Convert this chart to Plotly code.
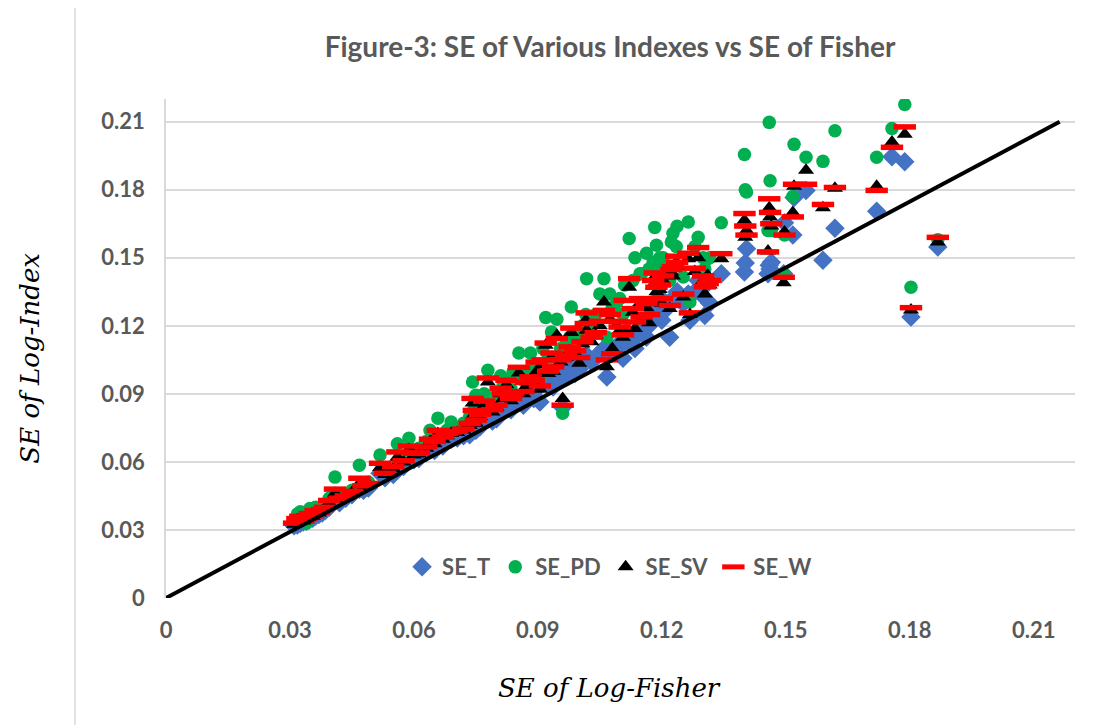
import plotly.graph_objects as go

# ---------------- data ----------------
se_fisher = [
    0.0310, 0.0318, 0.0325, 0.0332, 0.0340, 0.0348, 0.0355, 0.0362, 0.0370, 0.0378,
    0.0385, 0.0395, 0.0409, 0.0420, 0.0435, 0.0450, 0.0468, 0.0478, 0.0490, 0.0518,
    0.0530, 0.0550, 0.0560, 0.0575, 0.0588, 0.0600, 0.0612, 0.0630, 0.0639, 0.0650,
    0.0658, 0.0670, 0.0680, 0.0690, 0.0705, 0.0720, 0.0735, 0.0742, 0.0745, 0.0750,
    0.0760, 0.0770, 0.0779, 0.0790, 0.0800, 0.0810, 0.0816, 0.0824, 0.0835, 0.0840,
    0.0854, 0.0865, 0.0870, 0.0882, 0.0890, 0.0897, 0.0905, 0.0912, 0.0919, 0.0925,
    0.0933, 0.0937, 0.0946, 0.0955, 0.0960, 0.0968, 0.0977, 0.0981, 0.0990, 0.1000,
    0.1008, 0.1016, 0.1018, 0.1030, 0.1040, 0.1050, 0.1060, 0.1067, 0.1074, 0.1080,
    0.1090, 0.1098, 0.1106, 0.1110, 0.1121, 0.1130, 0.1135, 0.1147, 0.1151, 0.1163,
    0.1169, 0.1179, 0.1183, 0.1187, 0.1195, 0.1200, 0.1203, 0.1219, 0.1223, 0.1227,
    0.1235, 0.1237, 0.1252, 0.1264, 0.1268, 0.1280, 0.1288, 0.1300, 0.1304, 0.1311,
    0.1316, 0.1344, 0.1400, 0.1402, 0.1405, 0.1457, 0.1460, 0.1462, 0.1465, 0.1495,
    0.1497, 0.1517, 0.1520, 0.1549, 0.1590, 0.1619, 0.1720, 0.1757, 0.1788, 0.1803,
    0.1868,
]
se_t = [
    0.0318, 0.0322, 0.0330, 0.0335, 0.0338, 0.0350, 0.0352, 0.0362, 0.0368, 0.0375,
    0.0385, 0.0400, 0.0430, 0.0420, 0.0440, 0.0455, 0.0480, 0.0475, 0.0485, 0.0550,
    0.0530, 0.0545, 0.0590, 0.0580, 0.0620, 0.0610, 0.0615, 0.0640, 0.0660, 0.0650,
    0.0680, 0.0670, 0.0690, 0.0700, 0.0705, 0.0715, 0.0720, 0.0780, 0.0760, 0.0740,
    0.0755, 0.0800, 0.0820, 0.0780, 0.0790, 0.0840, 0.0830, 0.0880, 0.0830, 0.0860,
    0.0880, 0.0850, 0.0870, 0.0900, 0.0880, 0.0920, 0.0864, 0.0950, 0.0980, 0.0940,
    0.0960, 0.0930, 0.1000, 0.0960, 0.0840, 0.0980, 0.1004, 0.1020, 0.0990, 0.1010,
    0.1040, 0.1060, 0.1070, 0.1040, 0.1063, 0.1080, 0.1100, 0.0974, 0.1090, 0.1080,
    0.1110, 0.1120, 0.1057, 0.1130, 0.1150, 0.1136, 0.1100, 0.1180, 0.1195, 0.1150,
    0.1200, 0.1261, 0.1280, 0.1250, 0.1327, 0.1224, 0.1260, 0.1150, 0.1300, 0.1320,
    0.1330, 0.1350, 0.1298, 0.1340, 0.1224, 0.1350, 0.1400, 0.1330, 0.1246, 0.1388,
    0.1300, 0.1430, 0.1437, 0.1477, 0.1540, 0.1430, 0.1467, 0.1450, 0.1480, 0.1430,
    0.1654, 0.1600, 0.1766, 0.1797, 0.1489, 0.1630, 0.1705, 0.1945, 0.1923, 0.1239,
    0.1548,
]
se_pd = [
    0.0335, 0.0370, 0.0380, 0.0345, 0.0330, 0.0395, 0.0365, 0.0400, 0.0385, 0.0395,
    0.0410, 0.0440, 0.0533, 0.0450, 0.0445, 0.0475, 0.0585, 0.0500, 0.0510, 0.0630,
    0.0560, 0.0580, 0.0680, 0.0610, 0.0704, 0.0650, 0.0660, 0.0690, 0.0740, 0.0700,
    0.0793, 0.0720, 0.0740, 0.0776, 0.0750, 0.0770, 0.0800, 0.0952, 0.0830, 0.0894,
    0.0850, 0.0900, 0.1004, 0.0860, 0.0900, 0.0980, 0.0940, 0.0960, 0.0920, 0.0997,
    0.1080, 0.0960, 0.0990, 0.1080, 0.1000, 0.1030, 0.0970, 0.1100, 0.1237, 0.1060,
    0.1173, 0.1050, 0.1229, 0.1100, 0.0815, 0.1120, 0.1150, 0.1283, 0.1150, 0.1180,
    0.1200, 0.1250, 0.1408, 0.1200, 0.1250, 0.1340, 0.1408, 0.1150, 0.1340, 0.1280,
    0.1300, 0.1320, 0.1250, 0.1380, 0.1585, 0.1400, 0.1500, 0.1430, 0.1430, 0.1520,
    0.1450, 0.1480, 0.1634, 0.1555, 0.1500, 0.1450, 0.1500, 0.1400, 0.1570, 0.1608,
    0.1550, 0.1639, 0.1415, 0.1658, 0.1305, 0.1550, 0.1590, 0.1500, 0.1450, 0.1496,
    0.1500, 0.1654, 0.1955, 0.1800, 0.1790, 0.1620, 0.2097, 0.1840, 0.1620, 0.1430,
    0.1600, 0.1770, 0.2000, 0.1943, 0.1925, 0.2060, 0.1943, 0.2070, 0.2176, 0.1370,
    0.1580,
]
se_sv = [
    0.0325, 0.0345, 0.0350, 0.0340, 0.0345, 0.0365, 0.0360, 0.0380, 0.0375, 0.0385,
    0.0395, 0.0420, 0.0462, 0.0435, 0.0445, 0.0465, 0.0505, 0.0490, 0.0500, 0.0575,
    0.0545, 0.0570, 0.0620, 0.0600, 0.0655, 0.0630, 0.0635, 0.0660, 0.0690, 0.0680,
    0.0725, 0.0700, 0.0715, 0.0725, 0.0730, 0.0740, 0.0760, 0.0860, 0.0810, 0.0770,
    0.0800, 0.0850, 0.0952, 0.0820, 0.0840, 0.0900, 0.0880, 0.0940, 0.0870, 0.0890,
    0.0992, 0.0900, 0.0930, 0.0960, 0.0950, 0.1000, 0.0920, 0.1030, 0.1114, 0.0990,
    0.1060, 0.1000, 0.1158, 0.1040, 0.0880, 0.1060, 0.1090, 0.1170, 0.1080, 0.1035,
    0.1120, 0.1224, 0.1180, 0.1130, 0.1160, 0.1200, 0.1305, 0.1019, 0.1230, 0.1100,
    0.1200, 0.1180, 0.1150, 0.1173, 0.1370, 0.1260, 0.1188, 0.1300, 0.1230, 0.1280,
    0.1213, 0.1380, 0.1415, 0.1350, 0.1360, 0.1300, 0.1400, 0.1276, 0.1437, 0.1420,
    0.1480, 0.1460, 0.1327, 0.1496, 0.1250, 0.1440, 0.1500, 0.1400, 0.1340, 0.1423,
    0.1380, 0.1496, 0.1665, 0.1590, 0.1620, 0.1530, 0.1720, 0.1680, 0.1640, 0.1390,
    0.1614, 0.1700, 0.1815, 0.1886, 0.1720, 0.1807, 0.1815, 0.2010, 0.2045, 0.1270,
    0.1570,
]
se_w = [
    0.0330, 0.0350, 0.0360, 0.0342, 0.0350, 0.0372, 0.0362, 0.0385, 0.0378, 0.0390,
    0.0400, 0.0430, 0.0480, 0.0440, 0.0450, 0.0470, 0.0528, 0.0495, 0.0505, 0.0594,
    0.0550, 0.0580, 0.0644, 0.0605, 0.0670, 0.0638, 0.0640, 0.0666, 0.0700, 0.0690,
    0.0739, 0.0710, 0.0725, 0.0732, 0.0735, 0.0745, 0.0770, 0.0880, 0.0827, 0.0784,
    0.0810, 0.0868, 0.0970, 0.0830, 0.0850, 0.0925, 0.0900, 0.0960, 0.0880, 0.0900,
    0.1017, 0.0910, 0.0950, 0.0975, 0.0960, 0.1040, 0.0935, 0.1050, 0.1124, 0.1000,
    0.1080, 0.1019, 0.1144, 0.1050, 0.0850, 0.1070, 0.1107, 0.1190, 0.1090, 0.1060,
    0.1130, 0.1210, 0.1257, 0.1150, 0.1170, 0.1220, 0.1268, 0.1050, 0.1250, 0.1077,
    0.1220, 0.1195, 0.1160, 0.1312, 0.1408, 0.1276, 0.1217, 0.1320, 0.1239, 0.1298,
    0.1250, 0.1400, 0.1433, 0.1370, 0.1380, 0.1320, 0.1420, 0.1290, 0.1448, 0.1460,
    0.1507, 0.1480, 0.1340, 0.1520, 0.1257, 0.1454, 0.1545, 0.1420, 0.1372, 0.1386,
    0.1400, 0.1518, 0.1695, 0.1640, 0.1600, 0.1526, 0.1760, 0.1700, 0.1650, 0.1414,
    0.1600, 0.1680, 0.1824, 0.1824, 0.1735, 0.1810, 0.1797, 0.1987, 0.2077, 0.1280,
    0.1590,
]
# reference line drawn in the original chart
ref_line_x = [0.0, 0.2163]
ref_line_y = [0.0, 0.2100]

tick_vals = [0, 0.03, 0.06, 0.09, 0.12, 0.15, 0.18, 0.21]
tick_text = ["0", "0.03", "0.06", "0.09", "0.12", "0.15", "0.18", "0.21"]

title_text = "Figure-3: SE of Various Indexes vs SE of Fisher"
x_title = "SE of Log-Fisher"
y_title = "SE of Log-Index"

# ---------------- figure ----------------
GRAY_TXT = "#595959"
GRID = "#D9D9D9"

fig = go.Figure()
fig.add_trace(go.Scatter(x=se_fisher, y=se_t, mode="markers", name="SE_T",
                         marker=dict(symbol="diamond", size=15, color="#4472C4")))
fig.add_trace(go.Scatter(x=se_fisher, y=se_pd, mode="markers", name="SE_PD",
                         marker=dict(symbol="circle", size=13.5, color="#00B050")))
fig.add_trace(go.Scatter(x=se_fisher, y=se_sv, mode="markers", name="SE_SV",
                         marker=dict(symbol="triangle-up", size=14, color="#000000")))
fig.add_trace(go.Scatter(x=se_fisher, y=se_w, mode="markers", name="SE_W",
                         marker=dict(symbol="line-ew", size=16, color="#FF0000",
                                     line=dict(color="#FF0000", width=5.5))))
fig.add_trace(go.Scatter(x=ref_line_x, y=ref_line_y, mode="lines", showlegend=False,
                         line=dict(color="#000000", width=4), hoverinfo="skip"))

fig.update_layout(
    width=1119, height=725,
    paper_bgcolor="white", plot_bgcolor="white",
    margin=dict(l=158, r=52, t=91, b=135),
    title=dict(text=title_text, x=0.538, xanchor="center", y=0.946, yanchor="middle",
               font=dict(family="Lato", size=28, color=GRAY_TXT, weight="bold")),
    legend=dict(orientation="h", x=0.488, xanchor="center", y=0.062, yanchor="middle",
                bgcolor="rgba(0,0,0,0)",
                font=dict(family="Lato", size=22, color=GRAY_TXT, weight="bold"),
                itemwidth=30),
    showlegend=True,
)
fig.update_xaxes(range=[0, 0.22], tickvals=tick_vals, ticktext=tick_text,
                 showgrid=False, zeroline=False, showline=False, ticks="",
                 ticklabelstandoff=17,
                 tickfont=dict(family="Lato", size=22, color=GRAY_TXT, weight="bold"))
fig.update_yaxes(range=[0, 0.22], tickvals=tick_vals, ticktext=tick_text,
                 showgrid=True, gridcolor=GRID, gridwidth=1.5, zeroline=False,
                 showline=True, linecolor=GRID, linewidth=1.5, ticks="",
                 ticklabelstandoff=15,
                 tickfont=dict(family="Lato", size=22, color=GRAY_TXT, weight="bold"))

fig.add_annotation(text=x_title, xref="paper", yref="paper", x=0.488, y=-0.180,
                   xanchor="center", yanchor="middle", showarrow=False,
                   font=dict(family="DejaVu Serif", size=26, color="#000000", style="italic"))
fig.add_annotation(text=y_title, xref="paper", yref="paper", x=-0.15, y=0.481,
                   xanchor="center", yanchor="middle", showarrow=False, textangle=-90,
                   font=dict(family="DejaVu Serif", size=26, color="#000000", style="italic"))

# chart frame left edge
fig.add_shape(type="line", xref="paper", yref="paper", x0=-0.1001, x1=-0.1001,
              y0=-0.3, y1=1.2, line=dict(color=GRID, width=1.5))

fig.write_html("out.html")
